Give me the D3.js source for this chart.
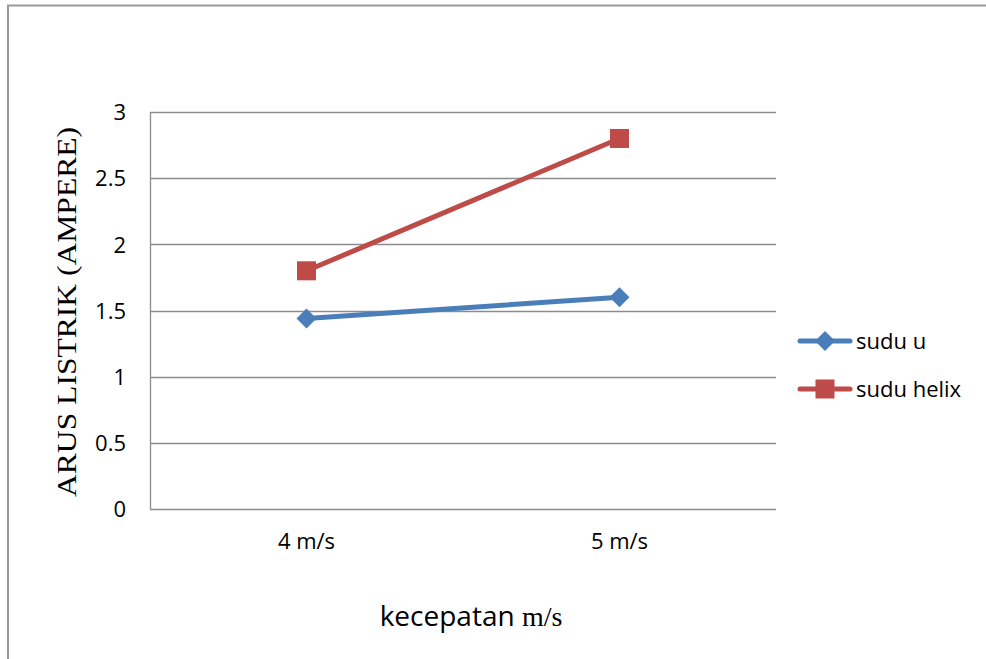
<!DOCTYPE html>
<html>
<head>
<meta charset="utf-8">
<script src="https://cdn.jsdelivr.net/npm/d3@7"></script>
<style>
  html, body { margin: 0; padding: 0; background: #fff; }
  svg { display: block; }
</style>
</head>
<body>
<svg id="chart" width="986" height="659"></svg>
<script>
// Arus listrik per kecepatan angin, untuk dua jenis sudu
const categories = ["4 m/s", "5 m/s"];
const suduU = [1.44, 1.6];
const suduHelix = [1.8, 2.8];
const yTicks = [0, 0.5, 1, 1.5, 2, 2.5, 3];
const seriesNames = ["sudu u", "sudu helix"];
const seriesColors = ["#4a7ebb", "#be4b48"];

const series = [
  { name: seriesNames[0], values: suduU, color: seriesColors[0], marker: "diamond" },
  { name: seriesNames[1], values: suduHelix, color: seriesColors[1], marker: "square" }
];

const svg = d3.select("#chart");
const sansFont = "'Open Sans', 'Noto Sans', sans-serif";
const serifFont = "'Liberation Serif', 'DejaVu Serif', serif";

// outer chart frame
svg.append("rect")
  .attr("x", 8).attr("y", 5.5)
  .attr("width", 990).attr("height", 700)
  .attr("fill", "none").attr("stroke", "#9a9a9a").attr("stroke-width", 2);

const plot = { left: 150, right: 776, top: 112, bottom: 509 };

const x = d3.scaleBand().domain(categories).range([plot.left, plot.right]);
const y = d3.scaleLinear().domain([0, 3]).range([plot.bottom, plot.top]);

// horizontal gridlines
svg.append("g").selectAll("line").data(yTicks).join("line")
  .attr("x1", plot.left).attr("x2", plot.right)
  .attr("y1", d => Math.round(y(d)) + 0.5).attr("y2", d => Math.round(y(d)) + 0.5)
  .attr("stroke", "#8c8c8c").attr("stroke-width", 1.3);

// vertical axis line
svg.append("line")
  .attr("x1", plot.left + 0.5).attr("x2", plot.left + 0.5)
  .attr("y1", plot.top).attr("y2", plot.bottom)
  .attr("stroke", "#8c8c8c").attr("stroke-width", 1.3);

// y tick labels
const yAxis = d3.axisLeft(y).tickValues(yTicks).tickSize(0).tickPadding(0)
  .tickFormat(d3.format("~g"));
const gy = svg.append("g").attr("transform", `translate(${plot.left - 24},0)`).call(yAxis);
gy.select(".domain").remove();
gy.selectAll("text")
  .attr("font-family", sansFont).attr("font-size", 22).attr("fill", "#000")
  .attr("dy", "0.35em");

// x tick labels
const xAxis = d3.axisBottom(x).tickSize(0).tickPadding(0);
const gx = svg.append("g").attr("transform", `translate(0,${plot.bottom + 25})`).call(xAxis);
gx.select(".domain").remove();
gx.selectAll("text")
  .attr("font-family", sansFont).attr("font-size", 22).attr("fill", "#000")
  .attr("dy", "0.7em");

// axis titles
const xTitle = svg.append("text")
  .attr("x", 471).attr("y", 626)
  .attr("text-anchor", "middle")
  .attr("font-size", 28).attr("fill", "#000");
xTitle.append("tspan").attr("font-family", sansFont).text("kecepatan ");
xTitle.append("tspan").attr("font-family", serifFont).text("m/s");

svg.append("text")
  .attr("transform", "translate(76,312) rotate(-90)")
  .attr("text-anchor", "middle")
  .attr("font-family", serifFont).attr("font-size", 27).attr("fill", "#000")
  .attr("textLength", 370).attr("lengthAdjust", "spacingAndGlyphs")
  .text("ARUS LISTRIK (AMPERE)");

// lines and markers
const cx = c => x(c) + x.bandwidth() / 2;
const line = d3.line().x(d => cx(d.cat)).y(d => y(d.v));

function drawMarker(g, type, px, py, color) {
  if (type === "diamond") {
    const r = 10;
    g.append("path")
      .attr("d", `M${px},${py - r}L${px + r},${py}L${px},${py + r}L${px - r},${py}Z`)
      .attr("fill", color);
  } else {
    const s = 19;
    g.append("rect")
      .attr("x", px - s / 2).attr("y", py - s / 2)
      .attr("width", s).attr("height", s)
      .attr("fill", color);
  }
}

series.forEach(s => {
  const pts = s.values.map((v, i) => ({ cat: categories[i], v }));
  const g = svg.append("g");
  g.append("path").datum(pts)
    .attr("d", line)
    .attr("fill", "none").attr("stroke", s.color)
    .attr("stroke-width", 5).attr("stroke-linecap", "round");
  pts.forEach(p => drawMarker(g, s.marker, cx(p.cat), y(p.v), s.color));
});

// legend
const legend = svg.append("g");
series.forEach((s, i) => {
  const ly = 341 + i * 48;
  const g = legend.append("g");
  g.append("line")
    .attr("x1", 800).attr("x2", 850).attr("y1", ly).attr("y2", ly)
    .attr("stroke", s.color).attr("stroke-width", 5).attr("stroke-linecap", "round");
  drawMarker(g, s.marker, 825, ly, s.color);
  g.append("text")
    .attr("x", 856).attr("y", ly).attr("dy", "0.35em")
    .attr("font-family", sansFont).attr("font-size", 22).attr("fill", "#000")
    .text(s.name);
});
</script>
</body>
</html>
